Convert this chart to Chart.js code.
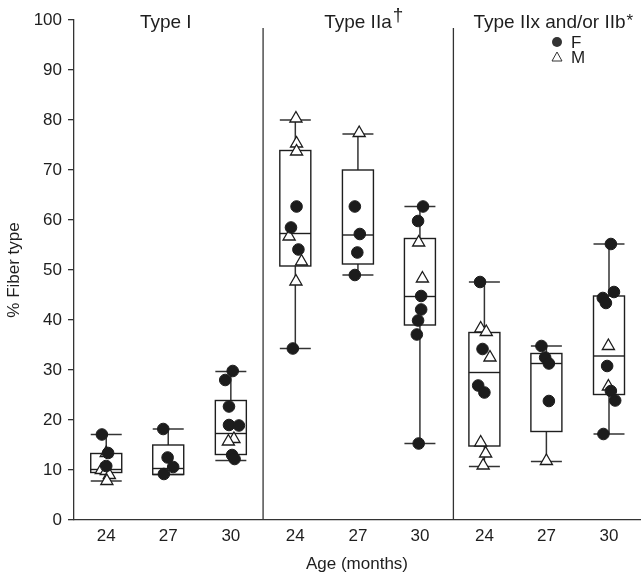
<!DOCTYPE html>
<html>
<head>
<meta charset="utf-8">
<script src="https://cdn.jsdelivr.net/npm/chart.js@4"></script>
<style>
  html, body { margin: 0; padding: 0; background: #fff; }
  #wrap { width: 641px; height: 581px; }
</style>
</head>
<body>
<div id="wrap"><canvas id="myChart" width="641" height="581"></canvas></div>
<script>
// categories
const ages = ['24', '27', '30'];
const fiberTypes = ['Type I', 'Type IIa', 'Type IIx and/or IIb'];
const typeMarks = ['', '\u2020', '*'];
const yTicks = [0, 10, 20, 30, 40, 50, 60, 70, 80, 90, 100];

// x position of each box (3 ages x 3 fiber types), in axis units
const boxPos = [0.52, 1.52, 2.53, 3.57, 4.58, 5.58, 6.62, 7.62, 8.63];
const panelDividers = [3.05, 6.12];
const titlePos = [1.48, 4.58, 7.67];

// box summaries, % fiber type
const boxMin = [7.8, 9.1, 11.9, 34.3, 49.0, 15.3, 10.7, 11.7, 17.2];
const boxQ1  = [9.5, 9.1, 13.1, 50.8, 51.2, 39.0, 14.8, 17.7, 25.1];
const boxMed = [10.1, 10.3, 17.3, 57.3, 57.0, 44.7, 29.5, 31.3, 32.8];
const boxQ3  = [13.3, 15.0, 23.9, 73.9, 70.0, 56.3, 37.5, 33.3, 44.8];
const boxMax = [17.1, 18.2, 29.7, 80.0, 77.2, 62.7, 47.6, 34.8, 55.2];

// individual animals
const femaleValues = [
  [17.1, 13.4, 10.8],
  [18.2, 12.5, 10.6, 9.2],
  [29.8, 28.0, 22.7, 19.0, 18.9, 13.0, 12.2],
  [62.7, 58.5, 54.1, 34.3],
  [62.7, 57.2, 53.5, 49.0],
  [62.7, 59.8, 44.8, 42.1, 39.9, 37.1, 15.3],
  [47.6, 34.2, 26.9, 25.5],
  [34.8, 32.5, 31.3, 23.8],
  [55.2, 45.6, 44.4, 43.4, 30.8, 25.8, 23.9, 17.2]
];
const femaleJitter = [
  [-0.07, 0.03, 0.0],
  [-0.08, -0.01, 0.08, -0.07],
  [0.03, -0.09, -0.03, -0.03, 0.13, 0.02, 0.06],
  [0.02, -0.07, 0.05, -0.04],
  [-0.05, 0.03, -0.01, -0.05],
  [0.05, -0.03, 0.02, 0.02, -0.03, -0.05, -0.02],
  [-0.07, -0.03, -0.1, 0.0],
  [-0.08, -0.02, 0.04, 0.04],
  [0.03, 0.08, -0.1, -0.05, -0.03, 0.03, 0.1, -0.09]
];
const maleValues = [
  [13.4, 10.0, 9.8, 9.0, 7.8],
  [],
  [16.2, 15.7],
  [80.3, 75.3, 73.7, 56.7, 51.7, 47.7],
  [77.4],
  [55.5, 48.3],
  [38.3, 37.6, 32.5, 15.5, 13.3, 10.9],
  [11.8],
  [34.8, 26.7]
];
const maleJitter = [
  [0.0, -0.08, 0.0, 0.05, 0.01],
  [],
  [0.05, -0.04],
  [0.01, 0.02, 0.02, -0.1, 0.1, 0.01],
  [0.02],
  [-0.02, 0.04],
  [-0.06, 0.03, 0.09, -0.06, 0.02, -0.02],
  [0.0],
  [-0.01, -0.01]
];

const boxWidth = 0.5;
const dividerTop = 98.4;
const ink = '#1e1e1e';
const fontFamily = "'Liberation Sans', Arial, Helvetica, sans-serif";

function toPoints(values, jitter) {
  const pts = [];
  values.forEach((grp, g) => {
    grp.forEach((v, i) => pts.push({ x: boxPos[g] + jitter[g][i], y: v }));
  });
  return pts;
}

function line(ctx, x1, y1, x2, y2) {
  ctx.beginPath();
  ctx.moveTo(x1, y1);
  ctx.lineTo(x2, y2);
  ctx.stroke();
}

// boxes, dividers, panel titles and legend
const boxPlugin = {
  id: 'boxes',
  beforeDatasetsDraw(chart) {
    const { ctx, chartArea } = chart;
    const x = chart.scales.x, y = chart.scales.y;
    ctx.save();
    ctx.strokeStyle = '#333';
    ctx.lineWidth = 1.3;
    panelDividers.forEach(d => {
      const px = x.getPixelForValue(d);
      line(ctx, px, y.getPixelForValue(dividerTop), px, chartArea.bottom);
    });

    boxPos.forEach((p, i) => {
      const cx = x.getPixelForValue(p);
      const half = x.getPixelForValue(p + boxWidth / 2) - cx;
      const yMin = y.getPixelForValue(boxMin[i]);
      const yQ1 = y.getPixelForValue(boxQ1[i]);
      const yMed = y.getPixelForValue(boxMed[i]);
      const yQ3 = y.getPixelForValue(boxQ3[i]);
      const yMax = y.getPixelForValue(boxMax[i]);

      ctx.strokeStyle = '#333';
      ctx.lineWidth = 1.5;
      line(ctx, cx, yMax, cx, yQ3);
      line(ctx, cx, yQ1, cx, yMin);
      line(ctx, cx - half, yMax, cx + half, yMax);
      line(ctx, cx - half, yMin, cx + half, yMin);

      ctx.strokeStyle = ink;
      ctx.lineWidth = 1.4;
      ctx.strokeRect(cx - half, yQ3, 2 * half, yQ1 - yQ3);
      line(ctx, cx - half, yMed, cx + half, yMed);
    });
    ctx.restore();
  },
  afterDraw(chart) {
    const { ctx, chartArea } = chart;
    const x = chart.scales.x;
    ctx.save();
    ctx.fillStyle = ink;
    ctx.textBaseline = 'alphabetic';
    fiberTypes.forEach((t, k) => {
      const cx = x.getPixelForValue(titlePos[k]);
      ctx.font = '19px ' + fontFamily;
      ctx.textAlign = 'center';
      const w = ctx.measureText(t).width;
      ctx.fillText(t, cx, chartArea.top + 8);
      if (typeMarks[k]) {
        ctx.textAlign = 'left';
        ctx.font = (k === 1 ? '19px ' : '17px ') + fontFamily;
        ctx.fillText(typeMarks[k], cx + w / 2 + 1, chartArea.top + (k === 1 ? 1 : 6));
      }
    });

    // legend
    const lx = chartArea.right - 83;
    const ly = chartArea.top + 22;
    ctx.fillStyle = '#333';
    ctx.beginPath();
    ctx.arc(lx, ly, 5, 0, Math.PI * 2);
    ctx.fill();
    ctx.strokeStyle = '#333';
    ctx.lineWidth = 1;
    ctx.beginPath();
    ctx.moveTo(lx, ly + 10);
    ctx.lineTo(lx + 5, ly + 19);
    ctx.lineTo(lx - 5, ly + 19);
    ctx.closePath();
    ctx.stroke();
    ctx.fillStyle = ink;
    ctx.font = '17px ' + fontFamily;
    ctx.textAlign = 'left';
    ctx.textBaseline = 'middle';
    ctx.fillText('F', lx + 14, ly + 1);
    ctx.fillText('M', lx + 14, ly + 16);
    ctx.restore();
  }
};

Chart.defaults.font.family = fontFamily;
Chart.defaults.color = ink;

const ctx = document.getElementById('myChart').getContext('2d');
const myChart = new Chart(ctx, {
  type: 'scatter',
  data: {
    datasets: [{
      label: 'F',
      data: toPoints(femaleValues, femaleJitter),
      pointStyle: 'circle',
      pointRadius: 5.8,
      backgroundColor: '#1c1c1c',
      borderColor: '#1c1c1c',
      borderWidth: 1
    }, {
      label: 'M',
      data: toPoints(maleValues, maleJitter),
      pointStyle: 'triangle',
      pointRadius: 7,
      backgroundColor: '#ffffff',
      borderColor: '#1c1c1c',
      borderWidth: 1.3
    }]
  },
  options: {
    responsive: false,
    animation: false,
    devicePixelRatio: 1,
    layout: { autoPadding: false, padding: { left: 0, right: 1, top: 20, bottom: 0 } },
    plugins: {
      legend: { display: false },
      tooltip: { enabled: false }
    },
    scales: {
      x: {
        type: 'linear',
        min: 0,
        max: 9.13,
        afterFit: s => { s.height = 61; s.paddingLeft = 0; s.paddingRight = 0; },
        afterBuildTicks: s => { s.ticks = boxPos.map(v => ({ value: v })); },
        ticks: {
          autoSkip: false,
          maxRotation: 0,
          padding: -2,
          font: { size: 17 },
          color: ink,
          callback: (v, i) => ages[i % 3]
        },
        grid: { display: false },
        border: { display: true, color: '#333', width: 1.3 },
        title: {
          display: true,
          text: 'Age (months)',
          font: { size: 17 },
          color: ink,
          padding: { top: 0, bottom: 6 }
        }
      },
      y: {
        min: 0,
        max: 100,
        afterFit: s => { s.width = 74; },
        afterBuildTicks: s => { s.ticks = yTicks.map(v => ({ value: v })); },
        ticks: {
          padding: 6,
          font: { size: 17 },
          color: ink
        },
        grid: {
          display: true,
          drawOnChartArea: false,
          drawTicks: true,
          tickLength: 6,
          color: '#333',
          lineWidth: 1.3
        },
        border: { display: true, color: '#333', width: 1.3 },
        title: {
          display: true,
          text: '% Fiber type',
          font: { size: 17 },
          color: ink,
          padding: { top: 4, bottom: 0 }
        }
      }
    }
  },
  plugins: [boxPlugin]
});
</script>
</body>
</html>
